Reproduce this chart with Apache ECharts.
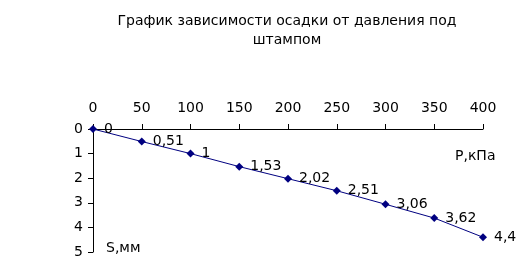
<!DOCTYPE html>
<html><head><meta charset="utf-8">
<script src="https://cdn.jsdelivr.net/npm/echarts@6/dist/echarts.min.js"></script>
<style>html,body{margin:0;padding:0;background:#fff}#c{width:524px;height:270px}</style>
</head><body><div id="c"></div>
<script>
const pressure = [0, 50, 100, 150, 200, 250, 300, 350, 400];
const settlement = [0, 0.51, 1, 1.53, 2.02, 2.51, 3.06, 3.62, 4.4];
const labels = ['0', '0,51', '1', '1,53', '2,02', '2,51', '3,06', '3,62', '4,4'];
const font = 'DejaVu Sans';
const chart = echarts.init(document.getElementById('c'));
chart.setOption({
  animation: false,
  backgroundColor: '#fff',
  title: {
    text: 'График зависимости осадки от давления под\nштампом',
    left: 282, top: 7, textAlign: 'center',
    textStyle: { fontFamily: font, fontSize: 14, fontWeight: 'normal', color: '#000', lineHeight: 19 }
  },
  graphic: [
    { type: 'text', left: 455, top: 149, style: { text: 'P,кПа', font: '14px DejaVu Sans', fill: '#000' } },
    { type: 'text', left: 106, top: 241, style: { text: 'S,мм', font: '14px DejaVu Sans', fill: '#000' } }
  ],
  grid: { left: 93, top: 129, width: 390, height: 123 },
  xAxis: {
    type: 'value', position: 'top', min: 0, max: 400, interval: 50,
    axisLine: { show: true, lineStyle: { color: '#000', width: 1 } },
    axisTick: { show: true, length: 5, lineStyle: { color: '#000' } },
    axisLabel: { color: '#000', fontFamily: font, fontSize: 14, margin: 14 },
    splitLine: { show: false }
  },
  yAxis: {
    type: 'value', inverse: true, min: 0, max: 5, interval: 1,
    axisLine: { show: true, lineStyle: { color: '#000', width: 1 } },
    axisTick: { show: true, length: 5, lineStyle: { color: '#000' } },
    axisLabel: { color: '#000', fontFamily: font, fontSize: 14, margin: 10 },
    splitLine: { show: false }
  },
  series: [{
    type: 'line',
    data: pressure.map((p, i) => [p, settlement[i]]),
    symbol: 'diamond', symbolSize: 8,
    lineStyle: { color: '#000080', width: 1 },
    itemStyle: { color: '#000080' },
    label: {
      show: true, position: 'right', distance: 7,
      formatter: (p) => labels[p.dataIndex],
      color: '#000', fontFamily: font, fontSize: 14
    }
  }]
});
</script></body></html>
